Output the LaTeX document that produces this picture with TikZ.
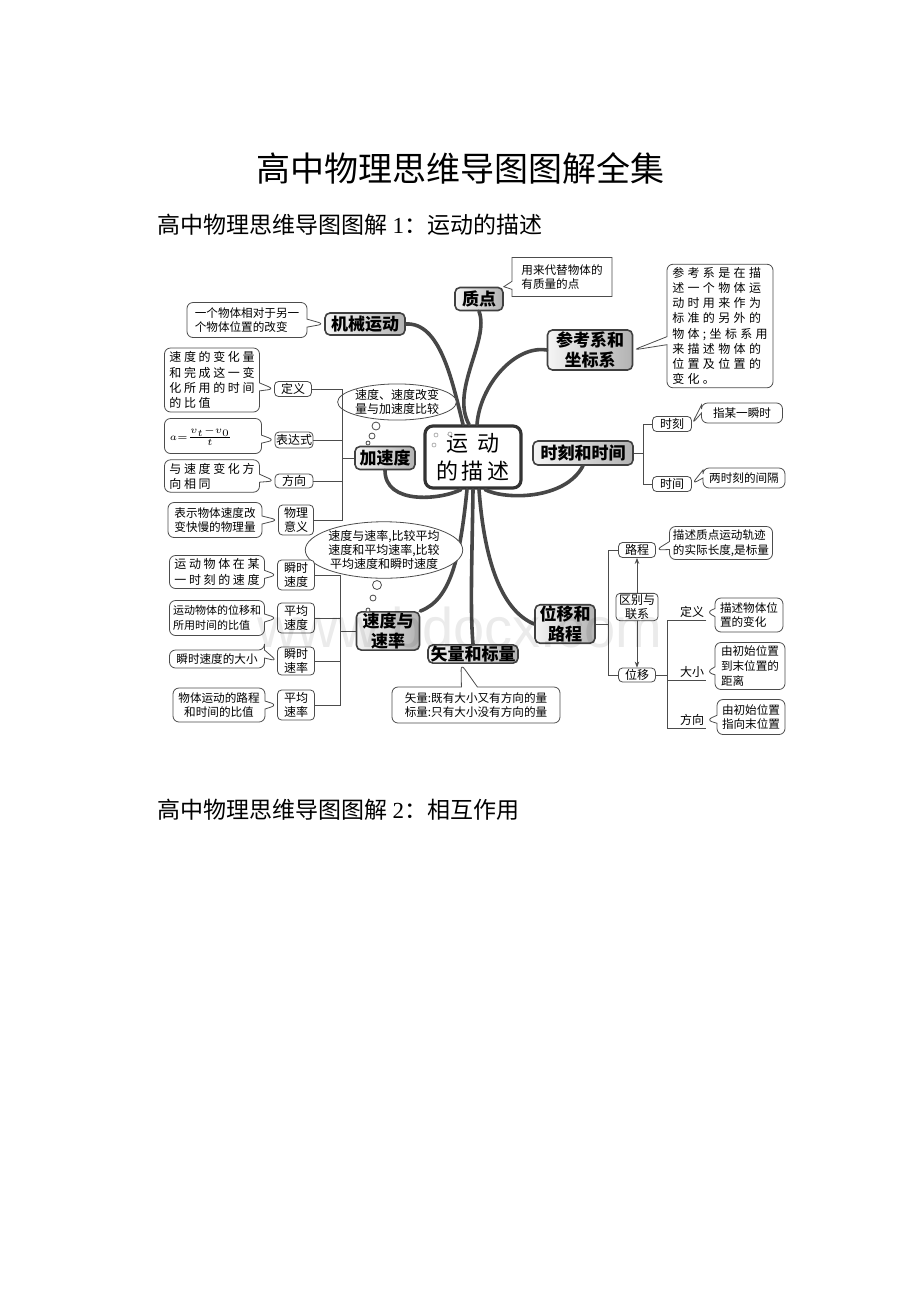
\documentclass[tikz,border=0pt]{standalone}
\usepackage{fontspec}
\setmainfont{Noto Sans CJK SC}
\newfontfamily\wmfont{Liberation Sans}
\newfontfamily\latinserif{Liberation Serif}
\usetikzlibrary{shapes.geometric,shapes.callouts,arrows.meta}
\tikzset{
    topic/.style={
        rectangle,
        rounded corners=2.5pt,
        draw=black!75, % 主题框
        left color=gray!8,
        right color=gray!60,
        thick,
        inner sep=0.5pt,
        align=center,
        font=\bfseries\fontsize{8.5}{10}\selectfont
    },
    tag/.style={
        rectangle,
        rounded corners=2pt,
        draw=black!70,
        fill=white,
        inner sep=0.5pt,
        align=center,
        font=\fontsize{6}{7.2}\selectfont
    },
    note/.style={
        rectangle callout,
        rounded corners=3pt,
        draw=black!70,
        fill=white,
        callout pointer width=4pt,
        inner sep=1.5pt,
        align=left,
        font=\fontsize{5.8}{7.3}\selectfont
    },
    spaced/.style={
        font=\fontsize{6}{7.6}\selectfont\addfontfeatures{LetterSpace=#1}
    },
    bubble/.style={
        ellipse,
        draw=black!70,
        fill=white,
        inner sep=0pt,
        align=center,
        font=\fontsize{6}{7.2}\selectfont
    },
    puff/.style={circle, draw=black!70, fill=white, inner sep=0pt},
    uline/.style={inner sep=1pt, font=\fontsize{6}{7}\selectfont},
    branch/.style={draw=black!72, line width=1.8pt, line cap=round},
    twig/.style={draw=black!70, line width=0.4pt}
}

\begin{document}
\begin{tikzpicture}[x=0.5pt, y=-0.5pt]
    \useasboundingbox (0,0) rectangle (920,1302);
    % 标题
    \node (biaoti) at (460,168) {\fontsize{17}{20}\selectfont 高中物理思维导图图解全集};
    \node[anchor=west, inner sep=0pt] (xiaobiao1) at (157,225) {\fontsize{11.5}{14}\selectfont 高中物理思维导图图解 {\latinserif 1}：运动的描述};
    \node[anchor=west, inner sep=0pt] (xiaobiao2) at (157,810) {\fontsize{11.5}{14}\selectfont 高中物理思维导图图解 {\latinserif 2}：相互作用};

    % 中心
    \node[draw=black!80, line width=1.6pt, rounded corners=4pt, fill=white,
          minimum width=48pt, minimum height=31pt, align=center,
          font=\fontsize{11}{14}\selectfont\addfontfeatures{LetterSpace=18}] (yundong) at (473,457) {运~动\\的描述};
    \node[puff, draw=gray!60, minimum size=2pt] (quan1) at (436,435) {};
    \node[puff, draw=gray!60, minimum size=2pt] (quan2) at (450,434) {};
    \node[puff, draw=gray!60, minimum size=2pt] (quan3) at (434,445) {};

    % 主题
    \node[topic, minimum width=24pt, minimum height=11.5pt] (zhidian) at (479,299) {质点};
    \node[topic, minimum width=40pt, minimum height=11pt] (jixie) at (365,324) {机械运动};
    \node[topic, minimum width=42.5pt, minimum height=20pt] (cankao) at (590,350) {参考系和\\坐标系};
    \node[topic, minimum width=30pt, minimum height=11.5pt] (jiasudu) at (385,458) {加速度};
    \node[topic, minimum width=50pt, minimum height=12pt] (shike) at (583,453) {时刻和时间};
    \node[topic, minimum width=31.5pt, minimum height=19pt] (sudu) at (388,631) {速度与\\速率};
    \node[topic, minimum width=45pt, minimum height=9pt] (shiliang) at (473,654) {矢量和标量};
    \node[topic, minimum width=30pt, minimum height=19pt] (weiyi) at (565,624) {位移和\\路程};

    % 分支
    \draw[branch] (jixie.east) .. controls (440,322) and (452,380) .. ([xshift=-5pt]yundong.north);
    \draw[branch] (zhidian.south) .. controls (490,340) and (450,390) .. ([xshift=-2pt]yundong.north);
    \draw[branch] (cankao.west) .. controls (515,345) and (480,385) .. ([xshift=2pt]yundong.north);
    \draw[branch] (jiasudu.south) .. controls (385,505) and (440,500) .. ([xshift=-6pt]yundong.south);
    \draw[branch] (shike.south) .. controls (565,500) and (505,500) .. ([xshift=6pt]yundong.south);
    \draw[branch] ([xshift=-3pt]yundong.south) .. controls (460,560) and (450,600) .. (sudu.north east);
    \draw[branch] (yundong.south) .. controls (472,560) and (470,610) .. (shiliang.north);
    \draw[branch] ([xshift=3pt]yundong.south) .. controls (485,570) and (505,612) .. (weiyi.west);

    % 质点, 机械运动, 参考系
    \node[note, rounded corners=0pt, minimum width=50pt, minimum height=19.5pt,
          callout absolute pointer={(zhidian.north east)}] (zhidiann) at (562,277) {用来代替物体的\\有质量的点};
    \node[note, minimum width=60pt, minimum height=17.5pt,
          callout absolute pointer={(jixie.west)}] (jixien) at (247,320) {一个物体相对于另一\\个物体位置的改变};
    \node[note, spaced=28, minimum width=53pt, minimum height=61pt,
          callout absolute pointer={(cankao.east)}] (cankaon) at (720,326)
          {参考系是在描\\述一个物体运\\动时用来作为\\标准的另外的\\物体;坐标系用\\来描述物体的\\位置及位置的\\变化。};

    % 加速度
    \node[bubble, minimum width=56pt, minimum height=16pt] (jsdpao) at (397,402) {速度、速度改变\\量与加速度比较};
    \node[puff, minimum size=4pt] (jsdpao1) at (376,426) {};
    \node[puff, minimum size=3pt] (jsdpao2) at (372,436) {};
    \node[puff, minimum size=2pt] (jsdpao3) at (368,443) {};
    \node[tag, minimum width=18.5pt, minimum height=7.5pt] (dingyi) at (293,389) {定义};
    \node[tag, minimum width=19pt, minimum height=8pt] (biaoda) at (294,440) {表达式};
    \node[tag, minimum width=19pt, minimum height=7pt] (fangxiang) at (294,481) {方向};
    \node[tag, minimum width=17.5pt, minimum height=15pt] (yiyi) at (296,520) {物理\\意义};
    \coordinate (jsdbus) at (342,0);
    \draw[twig] (dingyi.east) -- (jsdbus |- dingyi.east) -- (jsdbus |- yiyi.east) -- (yiyi.east);
    \draw[twig] (biaoda.east) -- (jsdbus |- biaoda.east);
    \draw[twig] (fangxiang.east) -- (jsdbus |- fangxiang.east);
    \draw[twig] (jiasudu.west) -- (jsdbus |- jiasudu.west);
    \node[note, spaced=22, minimum width=47.5pt, minimum height=32pt,
          callout absolute pointer={(dingyi.west)}] (dingyin) at (212,380) {速度的变化量\\和完成这一变\\化所用的时间\\的比值};
    \node[note, align=center, minimum width=48.5pt, minimum height=17.5pt,
          callout absolute pointer={(biaoda.west)}] (biaodan) at (213,436) {\hspace*{-6pt}$\scriptscriptstyle a=\frac{v_t-v_0}{t}$\hspace*{6pt}};
    \node[note, spaced=22, minimum width=47.5pt, minimum height=16pt,
          callout absolute pointer={(fangxiang.west)}] (fangxiangn) at (212,476) {与速度变化方\\向相同};
    \node[note, minimum width=47pt, minimum height=17.5pt,
          callout absolute pointer={(yiyi.west)}] (yiyin) at (215,520) {表示物体速度改\\变快慢的物理量};

    % 速度与速率
    \node[bubble, minimum width=71pt, minimum height=25pt] (sdpao) at (384,550) {速度与速率,比较平均\\速度和平均速率,比较\\平均速度和瞬时速度};
    \node[puff, minimum size=4.5pt] (sdpao1) at (377,585) {};
    \node[puff, minimum size=3pt] (sdpao2) at (373,598) {};
    \node[puff, minimum size=2pt] (sdpao3) at (368,610) {};
    \node[tag, minimum width=18.5pt, minimum height=15pt] (shunsudu) at (296,575) {瞬时\\速度};
    \node[tag, minimum width=18.5pt, minimum height=15pt] (pingsudu) at (296,618) {平均\\速度};
    \node[tag, minimum width=18.5pt, minimum height=14pt] (shunsulv) at (296,661) {瞬时\\速率};
    \node[tag, minimum width=18.5pt, minimum height=15pt] (pingsulv) at (296,705) {平均\\速率};
    \coordinate (sdbus) at (340,0);
    \draw[twig] (shunsudu.east) -- (sdbus |- shunsudu.east) -- (sdbus |- pingsulv.east) -- (pingsulv.east);
    \draw[twig] (pingsudu.east) -- (sdbus |- pingsudu.east);
    \draw[twig] (shunsulv.east) -- (sdbus |- shunsulv.east);
    \draw[twig] (sudu.west) -- (sdbus |- sudu.west);
    \node[note, spaced=22, minimum width=47.5pt, minimum height=16.5pt,
          callout absolute pointer={(shunsudu.west)}] (shunsudun) at (217,572) {运动物体在某\\一时刻的速度};
    \node[note, font=\fontsize{5.5}{7.3}\selectfont, minimum width=47.5pt, minimum height=17.5pt,
          callout absolute pointer={(pingsudu.west)}] (pingsudun) at (217,618) {运动物体的位移和\\所用时间的比值};
    \node[note, minimum width=47.5pt, minimum height=9pt,
          callout absolute pointer={(shunsulv.west)}] (shunsulvn) at (217,659) {瞬时速度的大小};
    \node[note, align=center, minimum width=46pt, minimum height=17pt,
          callout absolute pointer={(pingsulv.west)}] (pingsulvn) at (219,705) {物体运动的路程\\和时间的比值};

    % 时刻和时间
    \node[tag, minimum width=19.5pt, minimum height=7.5pt] (shikeA) at (672,424) {时刻};
    \node[tag, minimum width=19.5pt, minimum height=7.5pt] (shijian) at (672,484) {时间};
    \coordinate (skbus) at (643,0);
    \draw[twig] (shikeA.west) -- (skbus |- shikeA.west) -- (skbus |- shijian.west) -- (shijian.west);
    \draw[twig] (shike.east) -- (skbus |- shike.east);
    \node[note, align=center, minimum width=40.5pt, minimum height=10pt,
          callout absolute pointer={(shikeA.east)}] (shiken) at (742,413) {指某一瞬时};
    \node[note, align=center, minimum width=41pt, minimum height=10pt,
          callout absolute pointer={(shijian.east)}] (shijiann) at (744,478) {两时刻的间隔};

    % 矢量和标量
    \node[note, minimum width=84pt, minimum height=18pt, callout pointer width=8pt,
          callout absolute pointer={([xshift=-6pt]shiliang.south)}] (shiliangn) at (476,705) {矢量:既有大小又有方向的量\\标量:只有大小没有方向的量};

    % 位移和路程
    \node[tag, minimum width=18.5pt, minimum height=7.5pt] (lucheng) at (637,550) {路程};
    \node[tag, minimum width=18.5pt, minimum height=7pt] (weiyiT) at (637,675) {位移};
    \draw[twig, {Stealth[length=3pt]}-{Stealth[length=3pt]}] (lucheng.south) -- (weiyiT.north);
    \node[tag, minimum width=21pt, minimum height=12.5pt] (qubie) at (637,607) {区别与\\联系};
    \coordinate (wybus0) at (608,0);
    \draw[twig] (lucheng.west) -- (wybus0 |- lucheng.west) -- (wybus0 |- weiyiT.west) -- (weiyiT.west);
    \draw[twig] (weiyi.east) -- (wybus0 |- weiyi.east);
    \node[uline] (wydingyi) at (692,612) {定义};
    \node[uline] (wydaxiao) at (692,672) {大小};
    \node[uline] (wyfangxiang) at (692,720) {方向};
    \coordinate (wybus) at (667,0);
    \draw[twig] (weiyiT.east) -- (wybus |- weiyiT.east);
    \draw[twig] (wydingyi.south east) -- (wybus |- wydingyi.south) -- (wybus |- wyfangxiang.south) -- (wyfangxiang.south east);
    \draw[twig] (wybus |- wydaxiao.south) -- (wydaxiao.south east);
    \node[note, minimum width=51.5pt, minimum height=16.5pt,
          callout absolute pointer={(lucheng.east)}] (luchengn) at (721,543) {描述质点运动轨迹\\的实际长度,是标量};
    \node[note, minimum width=34pt, minimum height=17pt,
          callout absolute pointer={(wydingyi.east)}] (wydingyin) at (749,615) {描述物体位\\置的变化};
    \node[note, minimum width=35pt, minimum height=23.5pt,
          callout absolute pointer={(wydaxiao.east)}] (wydaxiaon) at (750,666) {由初始位置\\到末位置的\\距离};
    \node[note, minimum width=34pt, minimum height=17.5pt,
          callout absolute pointer={(wyfangxiang.east)}] (wyfangxiangn) at (751,717) {由初始位置\\指向末位置};

    % 水印
    \node[anchor=base west, inner sep=0pt, text=black, opacity=0.08,
          font=\wmfont\fontsize{28}{30}\selectfont] (shuiyin) at (257,647) {www.bdocx.com};
\end{tikzpicture}
\end{document}
